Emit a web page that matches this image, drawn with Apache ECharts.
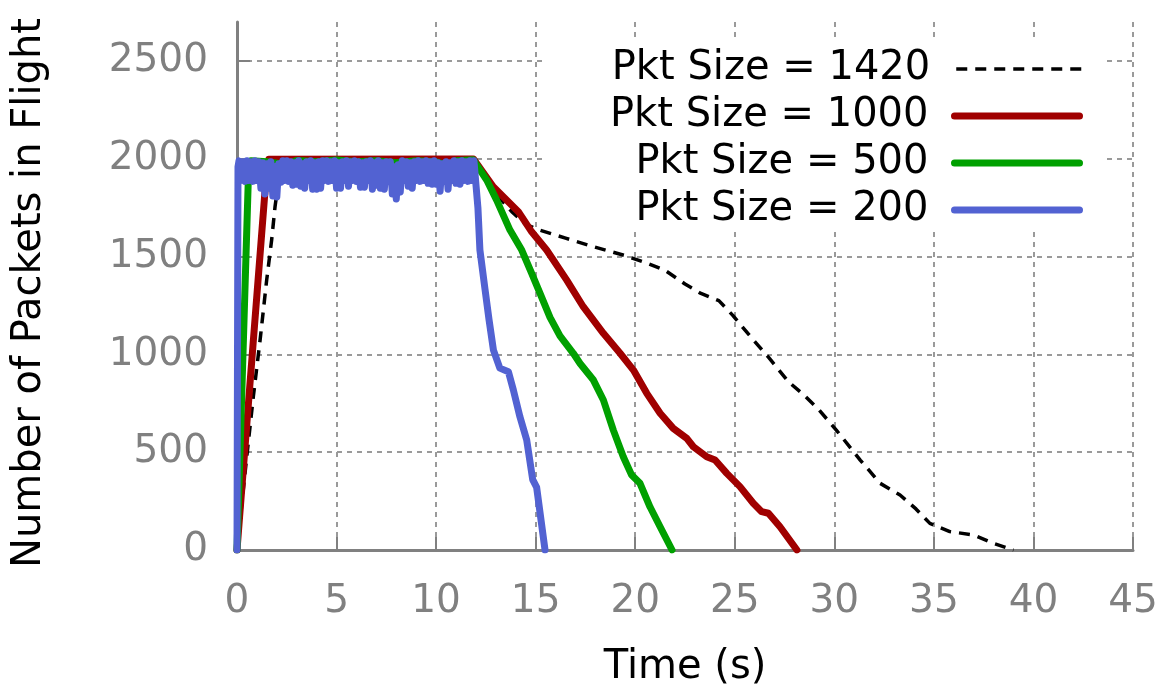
<!DOCTYPE html>
<html>
<head>
<meta charset="utf-8">
<script src="https://cdn.jsdelivr.net/npm/echarts@6/dist/echarts.min.js"></script>
<style>
  html, body { margin: 0; padding: 0; background: #fff; }
  #chart { width: 1166px; height: 689px; }
</style>
</head>
<body>
<div id="chart"></div>
<script>
// Axis ticks
const xTicks = [0, 5, 10, 15, 20, 25, 30, 35, 40, 45];
const yTicks = [0, 500, 1000, 1500, 2000, 2500];

const seriesNames = ['Pkt Size = 1420', 'Pkt Size = 1000', 'Pkt Size = 500', 'Pkt Size = 200'];

// Pkt Size = 1420 : time (s) / packets in flight
const t1420 = [0, 0.49, 0.82, 1.16, 1.49, 1.74, 1.91, 2.1, 2.3, 11.9, 12.5, 13.2, 13.8, 14.5, 15.2, 16.5, 17.9, 19.5, 20.5, 21.5, 22.5, 23.3, 24.2, 24.9, 25.8, 26.7, 27.7, 28.5, 29.2, 30.1, 31.3, 32.3, 33.3, 34.1, 34.8, 35.8, 37.0, 38.0, 39.0];
const v1420 = [0, 477, 784, 1074, 1380, 1585, 1755, 1900, 1995, 2000, 1900, 1800, 1730, 1665, 1636, 1595, 1551, 1505, 1470, 1430, 1360, 1312, 1275, 1200, 1090, 985, 860, 790, 720, 613, 460, 341, 281, 210, 136, 94, 77, 34, 0];

// Pkt Size = 1000
const t1000 = [0, 1.41, 1.6, 11.87, 12.87, 14.13, 14.8, 15.55, 16.56, 17.39, 18.4, 19.24, 19.91, 20.58, 21.25, 21.91, 22.59, 22.92, 23.59, 24.01, 24.6, 25.26, 25.93, 26.35, 26.69, 27.27, 28.12];
const v1000 = [0, 1840, 1998, 2000, 1857, 1730, 1627, 1534, 1380, 1244, 1108, 1006, 920, 801, 699, 622, 571, 528, 477, 460, 392, 324, 239, 196, 188, 119, 0];

// Pkt Size = 500
const t500 = [0, 0.57, 0.7, 1.5, 2.5, 3.0, 4.0, 5.0, 6.0, 7.0, 8.0, 9.0, 10.0, 10.8, 11.0, 11.87, 12.54, 13.04, 13.71, 14.3, 14.8, 15.22, 15.72, 16.22, 16.89, 17.23, 17.9, 18.4, 18.9, 19.4, 19.82, 20.24, 20.74, 21.25, 21.85];
const v500 = [0, 1900, 1990, 1985, 1970, 1992, 1985, 1995, 1985, 1990, 1980, 1990, 1985, 1960, 1990, 1995, 1892, 1789, 1636, 1534, 1415, 1312, 1190, 1095, 1006, 954, 869, 767, 613, 477, 383, 341, 221, 119, 0];

// Pkt Size = 200 (sampled every 0.1 s on the plateau)
const t200 = [0, 0.05, 0.1,
  0.2, 0.3, 0.4, 0.5, 0.6, 0.7, 0.8, 0.9, 1.0, 1.1,
  1.2, 1.3, 1.4, 1.5, 1.6, 1.7, 1.8, 1.9, 2.0, 2.1,
  2.2, 2.3, 2.4, 2.5, 2.6, 2.7, 2.8, 2.9, 3.0, 3.1,
  3.2, 3.3, 3.4, 3.5, 3.6, 3.7, 3.8, 3.9, 4.0, 4.1,
  4.2, 4.3, 4.4, 4.5, 4.6, 4.7, 4.8, 4.9, 5.0, 5.1,
  5.2, 5.3, 5.4, 5.5, 5.6, 5.7, 5.8, 5.9, 6.0, 6.1,
  6.2, 6.3, 6.4, 6.5, 6.6, 6.7, 6.8, 6.9, 7.0, 7.1,
  7.2, 7.3, 7.4, 7.5, 7.6, 7.7, 7.8, 7.9, 8.0, 8.1,
  8.2, 8.3, 8.4, 8.5, 8.6, 8.7, 8.8, 8.9, 9.0, 9.1,
  9.2, 9.3, 9.4, 9.5, 9.6, 9.7, 9.8, 9.9, 10.0, 10.1,
  10.2, 10.3, 10.4, 10.5, 10.6, 10.7, 10.8, 10.9, 11.0, 11.1,
  11.2, 11.3, 11.4, 11.5, 11.6, 11.7, 11.8,
  11.9, 12.0, 12.1, 12.2, 12.46, 12.66, 12.88, 13.2, 13.63, 13.88, 14.21, 14.55, 14.85, 15.05, 15.47];
const v200 = [0, 1960, 1990,
  1890, 1985, 1885, 1990, 1890, 1985, 1885, 1990, 1890, 1985,
  1850, 1980, 1820, 1975, 1850, 1985, 1810, 1960, 1805, 1975,
  1880, 1990, 1890, 1990, 1885, 1985, 1865, 1980, 1870, 1990,
  1860, 1975, 1850, 1985, 1890, 1990, 1845, 1980, 1845, 1985,
  1850, 1990, 1890, 1990, 1885, 1985, 1890, 1990, 1850, 1980,
  1850, 1985, 1890, 1990, 1860, 1985, 1890, 1990, 1885, 1985,
  1855, 1980, 1855, 1985, 1890, 1990, 1845, 1980, 1865, 1990,
  1850, 1980, 1845, 1985, 1885, 1985, 1820, 1960, 1795, 1970,
  1830, 1990, 1890, 1985, 1860, 1980, 1850, 1985, 1890, 1990,
  1885, 1985, 1890, 1990, 1875, 1985, 1870, 1990, 1870, 1980,
  1835, 1975, 1885, 1985, 1845, 1980, 1890, 1990, 1875, 1985,
  1870, 1990, 1890, 1985, 1885, 1990, 1890,
  1990, 1990, 1750, 1534, 1330, 1176, 1022, 930, 912, 818, 681, 562, 360, 320, 0];

const colors = ['#000000', '#a00000', '#00a000', '#5262d2'];

function pairs(ts, vs) {
  return ts.map((t, i) => [t, vs[i]]);
}

const FONT = 'DejaVu Sans';
const GRAY = '#808080';

const chart = echarts.init(document.getElementById('chart'), null, { renderer: 'canvas' });

const styles = [
  { width: 3.5, type: [11, 8], cap: 'butt' },
  { width: 7, type: 'solid', cap: 'round' },
  { width: 7, type: 'solid', cap: 'round' },
  { width: 7, type: 'solid', cap: 'round' }
];

const seriesData = [pairs(t1420, v1420), pairs(t1000, v1000), pairs(t500, v500), pairs(t200, v200)];

const lineSeries = seriesNames.map((name, i) => ({
  name: name,
  type: 'line',
  data: seriesData[i],
  showSymbol: false,
  symbol: 'none',
  color: colors[i],
  lineStyle: {
    color: colors[i],
    width: styles[i].width,
    type: styles[i].type,
    cap: styles[i].cap,
    join: 'round'
  },
  emphasis: { disabled: true },
  z: 2
}));

// One right-aligned key entry per row so that the line samples line up
const rowCenters = [66, 113, 160, 207];
const legends = seriesNames.map((n, i) => ({
  data: [n],
  orient: 'horizontal',
  align: 'right',
  right: 83,
  top: rowCenters[i] - 17,
  padding: 0,
  itemWidth: 125,
  itemHeight: 14,
  selectedMode: false,
  itemStyle: { opacity: 0 },
  lineStyle: {
    color: colors[i],
    width: styles[i].width,
    type: styles[i].type,
    cap: styles[i].cap,
    opacity: 1
  },
  textStyle: { fontFamily: FONT, fontSize: 40, color: '#000', padding: [0, 21, 0, 0] }
}));

const plainNumber = v => String(v);

const option = {
  animation: false,
  backgroundColor: '#fff',
  grid: { left: 237, right: 33, top: 22, bottom: 139, containLabel: false, outerBoundsMode: 'none' },
  legend: legends,
  graphic: [{
    type: 'rect',
    z: 1,
    shape: { x: 544, y: 42, width: 561, height: 190 },
    style: { fill: '#fff' },
    silent: true
  }],
  xAxis: {
    type: 'value',
    min: 0, max: 45, interval: 5,
    name: 'Time (s)',
    nameLocation: 'middle',
    nameGap: 98,
    nameTextStyle: { fontFamily: FONT, fontSize: 40, color: '#000' },
    axisLine: { show: true, onZero: false, lineStyle: { color: GRAY, width: 3 } },
    axisTick: { show: true, inside: true, length: 13, lineStyle: { color: GRAY, width: 2 }, customValues: xTicks },
    axisLabel: { margin: 32, fontFamily: FONT, fontSize: 39, color: GRAY, customValues: xTicks, formatter: plainNumber },
    splitLine: { show: true, lineStyle: { color: '#9a9a9a', width: 2, type: [5, 5] } }
  },
  yAxis: {
    type: 'value',
    min: 0, max: 2700, interval: 500,
    name: 'Number of Packets in Flight',
    nameLocation: 'middle',
    nameRotate: 90,
    nameGap: 187,
    nameTextStyle: { fontFamily: FONT, fontSize: 40, color: '#000', padding: [0, 14, 0, 0] },
    axisLine: { show: true, onZero: false, lineStyle: { color: GRAY, width: 3 } },
    axisTick: { show: true, inside: true, length: 13, lineStyle: { color: GRAY, width: 2 }, customValues: yTicks },
    axisLabel: { margin: 29, fontFamily: FONT, fontSize: 39, color: GRAY, customValues: yTicks, formatter: plainNumber },
    splitLine: { show: true, lineStyle: { color: '#9a9a9a', width: 2, type: [5, 5] } }
  },
  series: lineSeries
};

chart.setOption(option);
</script>
</body>
</html>
